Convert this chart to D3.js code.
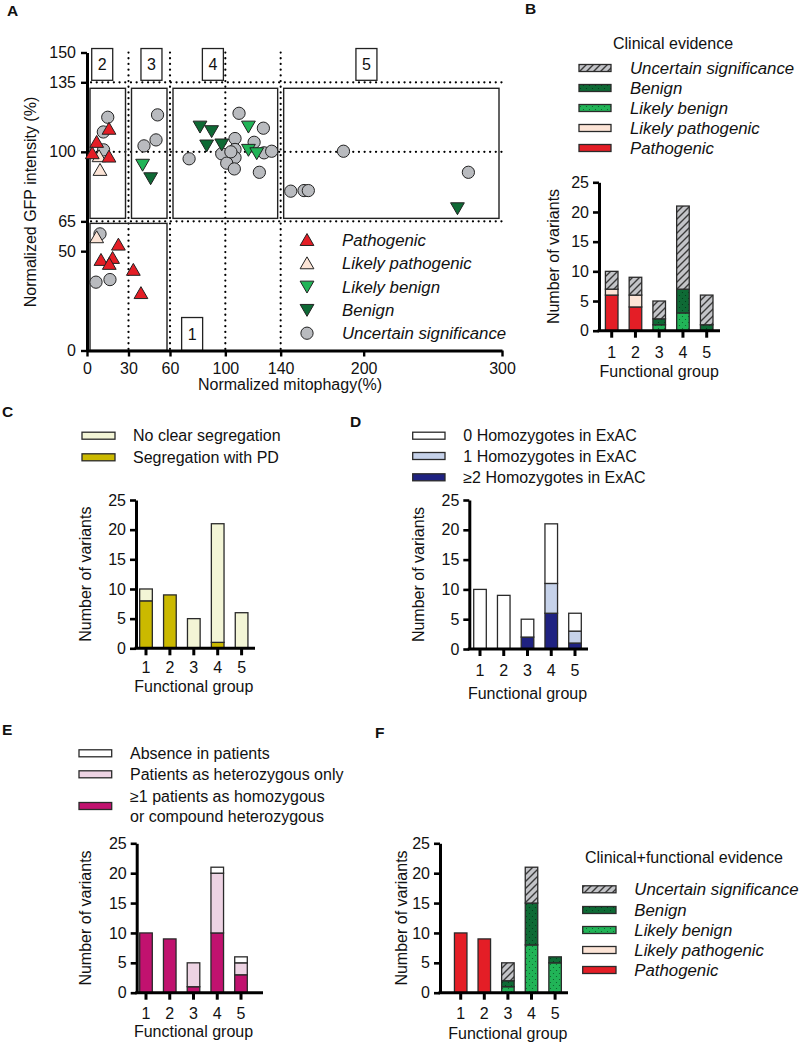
<!DOCTYPE html>
<html><head><meta charset="utf-8">
<script src="https://cdn.jsdelivr.net/npm/d3@7"></script>
<style>
body{margin:0;background:#fff}
svg{display:block}
text{font-family:"Liberation Sans",Arial,Helvetica,sans-serif;fill:#111}
</style>
</head><body>
<svg id="c" width="800" height="1044"></svg>
<script>
// ---------------- DATA ----------------
// Panel A scatter: [normalized mitophagy %, normalized GFP intensity %]
const pathogenicPts = [[15.9,111.6],[7,105],[3.8,99.3],[15.9,97.6],[22.7,53.3],[10.1,45.6],[18.5,46.6],[16.1,43.6],[33.5,40.6],[39,28.9]];
const likelyPathogenicPts = [[8.7,97.8],[9.4,90.9],[7,57]];
const likelyBenignPts = [[40.2,93.5],[116.7,112.7],[116.7,101],[122.7,99.3]];
const benignPts = [[46,86.7],[81.7,112.7],[90.1,110.4],[86.5,103.2],[97.4,103.7],[267.8,71.6]];
const uncertainPts = [[15,117.4],[11.8,110],[12,101],
  [51,118.6],[49.9,106],[41.2,103],
  [109.9,119.4],[127.5,111.9],[107,106.7],[120.8,104.8],[107,101.2],[97.4,99],[107,97.1],[128,99.5],[133.5,100.3],[101,94.3],[106.5,91.4],[124.6,89.7],[73.8,96.5],[104,100],
  [185.4,100.3],[275.7,89.7],[147.3,80.2],[156.9,80.5],[160,80.5],
  [9.4,58.7],[6.5,34.4],[16.6,35.7]];
const scatterXTicks = [0,30,60,100,140,200,300];
const scatterYTicks = [0,50,65,100,135,150];
const dividerX = [30,60,100,140];
const dividerY = [65,100,135];
// functional group regions: [label,x0,x1,y0,y1]
const groupRegions = [["1",0,60,0,65],["2",0,30,65,135],["3",30,60,65,135],["4",60,140,65,135],["5",140,300,65,135]];
const groupLabelX = [76,11,46.6,91,202];

// Bar panels
const groups = ["1","2","3","4","5"];
const barYTicks = [0,5,10,15,20,25];
// B clinical evidence
const bPathogenic = [6,4,0,0,0];
const bLikelyPathogenic = [1,2,0,0,0];
const bLikelyBenign = [0,0,1,3,0];
const bBenign = [0,0,1,4,1];
const bUncertain = [3,3,3,14,5];
// C segregation
const cSegregation = [8,9,0,1,0];
const cNoClear = [2,0,5,20,6];
// D ExAC homozygotes
const dHomo2 = [0,0,2,6,1];
const dHomo1 = [0,0,0,5,2];
const dHomo0 = [10,9,3,10,3];
// E patients
const eHomozygous = [10,9,1,10,3];
const eHeterozygous = [0,0,4,10,2];
const eAbsence = [0,0,0,1,1];
// F clinical + functional
const fPathogenic = [10,9,0,0,0];
const fLikelyPathogenic = [0,0,0,0,0];
const fLikelyBenign = [0,0,1,8,5];
const fBenign = [0,0,1,7,1];
const fUncertain = [0,0,3,6,0];

// ---------------- STYLE ----------------
const C = {
  red:"#e41e26", lp:"#fce4d6", lb:"#21b457", ben:"#0e6a35", unc:"#c3c4c8",
  seg:"#cbb900", noclear:"#f3f5d6",
  h0:"#ffffff", h1:"#c6d2ea", h2:"#1f2281",
  abs:"#ffffff", het:"#edd3e3", hom:"#c1126f", circle:"#b9bbbf"
};
const FONT = 16;
const IFONT = 16.8;

const svg = d3.select("#c");
const defs = svg.append("defs");
// hatch pattern
const hp = defs.append("pattern").attr("id","hatch").attr("patternUnits","userSpaceOnUse")
  .attr("width",7).attr("height",7);
hp.append("rect").attr("width",7).attr("height",7).attr("fill",C.unc);
hp.append("path").attr("d","M-1,1 l2,-2 M0,7 l7,-7 M6,8 l2,-2").attr("stroke","#3a3a3a").attr("stroke-width",1.4);
function dotPattern(id, bg, dot){
  const p = defs.append("pattern").attr("id",id).attr("patternUnits","userSpaceOnUse").attr("width",6).attr("height",6);
  p.append("rect").attr("width",6).attr("height",6).attr("fill",bg);
  p.append("circle").attr("cx",1.5).attr("cy",1.5).attr("r",0.6).attr("fill",dot);
  p.append("circle").attr("cx",4.5).attr("cy",4.5).attr("r",0.6).attr("fill",dot);
}
dotPattern("dotsLB", C.lb, "#0b5a2a");
dotPattern("dotsB", C.ben, "#03361a");

function panelLabel(t,x,y){
  svg.append("text").attr("x",x).attr("y",y).attr("font-size",15.5).attr("font-weight","bold").text(t);
}

// ---------------- PANEL A ----------------
(function(){
  const x = d3.scaleLinear().domain([0,300]).range([87,502]);
  const y = d3.scaleLinear().domain([0,150]).range([350.5,52.5]);
  const g = svg.append("g");

  const dot = sel => sel.attr("stroke","#000").attr("stroke-width",2.2)
    .attr("stroke-dasharray","0.1,5.6").attr("stroke-linecap","round").attr("fill","none");
  g.selectAll(".vx").data(dividerX).join("line")
    .attr("x1",d=>x(d)).attr("x2",d=>x(d)).attr("y1",y(150)).attr("y2",y(0)).call(dot);
  g.selectAll(".hy").data(dividerY).join("line")
    .attr("x1",x(0)+4).attr("x2",x(300)).attr("y1",d=>y(d)).attr("y2",d=>y(d)).call(dot);

  g.selectAll(".reg").data(groupRegions).join("rect")
    .attr("x",d=>x(d[1])+3).attr("y",d=>y(d[4])+(d[4]===135?6:2))
    .attr("width",d=>x(d[2])-x(d[1])-6)
    .attr("height",d=>y(d[3])-y(d[4])-(d[4]===135?6:2)-(d[3]===0?0:3))
    .attr("fill","none").attr("stroke","#222").attr("stroke-width",1.4);

  groupRegions.forEach((r,i)=>{
    const cx = x(groupLabelX[i]);
    const top = r[0]==="1" ? y(16.6) : y(152);
    const bot = r[0]==="1" ? y(0) : y(136);
    g.append("rect").attr("x",cx-10.5).attr("y",top).attr("width",21).attr("height",bot-top)
      .attr("fill","#fff").attr("stroke","#222").attr("stroke-width",1.3);
    g.append("text").attr("x",cx).attr("y",(top+bot)/2).attr("dy","0.36em")
      .attr("text-anchor","middle").attr("font-size",FONT).text(r[0]);
  });

  const ax = g.append("g").attr("transform",`translate(0,${y(0)})`)
    .call(d3.axisBottom(x).tickValues(scatterXTicks).tickSize(6).tickSizeOuter(0).tickPadding(6));
  const ay = g.append("g").attr("transform",`translate(${x(0)},0)`)
    .call(d3.axisLeft(y).tickValues(scatterYTicks).tickSize(6).tickSizeOuter(0).tickPadding(5));
  [ax,ay].forEach(a=>{
    a.select(".domain").attr("stroke","#000").attr("stroke-width",3);
    a.selectAll(".tick line").attr("stroke","#000").attr("stroke-width",2.4);
    a.selectAll(".tick text").attr("font-size",FONT).attr("font-family",null).attr("fill","#111");
  });

  const circ = d3.symbol().type(d3.symbolCircle).size(118);
  const tri = d3.symbol().type(d3.symbolTriangle).size(82);
  g.selectAll(".unc").data(uncertainPts).join("path").attr("d",circ)
    .attr("transform",d=>`translate(${x(d[0])},${y(d[1])})`)
    .attr("fill",C.circle).attr("stroke","#222").attr("stroke-width",1);
  const triSets = [[benignPts,C.ben,180],[likelyBenignPts,C.lb,180],[likelyPathogenicPts,C.lp,0],[pathogenicPts,C.red,0]];
  triSets.forEach(([pts,col,rot])=>{
    g.append("g").selectAll("path").data(pts).join("path").attr("d",tri)
      .attr("transform",d=>`translate(${x(d[0])},${y(d[1])+(rot?-1.5:1.5)}) rotate(${rot})`)
      .attr("fill",col).attr("stroke","#222").attr("stroke-width",1);
  });

  const leg = [["Pathogenic",C.red,"tri",0],["Likely pathogenic",C.lp,"tri",0],["Likely benign",C.lb,"tri",180],["Benign",C.ben,"tri",180],["Uncertain significance",C.circle,"circ",0]];
  leg.forEach((l,i)=>{
    const yy = 240 + i*23.3;
    g.append("path").attr("d", l[2]==="tri"?tri:circ)
      .attr("transform",`translate(307,${yy+(l[2]==="tri"?(l[3]?-1.5:1.5):0)}) rotate(${l[3]})`)
      .attr("fill",l[1]).attr("stroke","#222").attr("stroke-width",1);
    g.append("text").attr("x",342).attr("y",yy).attr("dy","0.36em").attr("font-size",IFONT)
      .attr("font-style","italic").text(l[0]);
  });

  g.append("text").attr("transform",`translate(36,202) rotate(-90)`).attr("text-anchor","middle")
    .attr("font-size",FONT).text("Normalized GFP intensity (%)");
  g.append("text").attr("x",290).attr("y",390).attr("text-anchor","middle")
    .attr("font-size",FONT).text("Normalized mitophagy(%)");
})();
panelLabel("A",7,16);

// ---------------- BAR PANELS ----------------
function barChart(o){
  const g = svg.append("g");
  const y = d3.scaleLinear().domain([0,25]).range([o.y0,o.y25]);
  const x = d3.scaleBand().domain(groups)
    .range([o.c1-o.step/2, o.c1-o.step/2+5*o.step]).paddingInner(0.47).paddingOuter(0.235);
  const rows = groups.map((gname,i)=>{
    const r = {group:gname};
    o.series.forEach(s=>{ r[s.key]=s.values[i]; });
    return r;
  });
  const stack = d3.stack().keys(o.series.map(s=>s.key))(rows);
  stack.forEach((layer,li)=>{
    const s = o.series[li];
    g.append("g").selectAll("rect").data(layer.filter(d=>d[1]>d[0])).join("rect")
      .attr("x",d=>x(d.data.group)).attr("width",x.bandwidth())
      .attr("y",d=>y(d[1])).attr("height",d=>y(d[0])-y(d[1]))
      .attr("fill",s.fill).attr("stroke","#2a2a2a").attr("stroke-width",1.3);
  });
  const ay = g.append("g").attr("transform",`translate(${o.ax},0)`)
    .call(d3.axisLeft(y).tickValues(barYTicks).tickSize(6).tickSizeOuter(0).tickPadding(4));
  ay.select(".domain").attr("stroke","#000").attr("stroke-width",3);
  ay.selectAll(".tick line").attr("stroke","#000").attr("stroke-width",2.6);
  ay.selectAll(".tick text").attr("font-size",FONT).attr("font-family",null).attr("fill","#111");
  g.append("line").attr("x1",o.ax-1.5).attr("x2",o.axEnd).attr("y1",y(0)).attr("y2",y(0))
    .attr("stroke","#000").attr("stroke-width",3);
  g.selectAll(".xt").data(groups).join("line")
    .attr("x1",d=>x(d)+x.bandwidth()/2).attr("x2",d=>x(d)+x.bandwidth()/2)
    .attr("y1",y(0)).attr("y2",y(0)+7).attr("stroke","#000").attr("stroke-width",3);
  g.selectAll(".xl").data(groups).join("text")
    .attr("x",d=>x(d)+x.bandwidth()/2).attr("y",y(0)+o.tickLab).attr("dy","0.36em")
    .attr("text-anchor","middle").attr("font-size",FONT).text(d=>d);
  g.append("text").attr("x",x("3")+x.bandwidth()/2).attr("y",y(0)+o.fgLab).attr("dy","0.36em")
    .attr("text-anchor","middle").attr("font-size",FONT).text("Functional group");
  g.append("text").attr("transform",`translate(${o.ylabX},${(o.y0+o.y25)/2}) rotate(-90)`)
    .attr("dy","0.36em").attr("text-anchor","middle").attr("font-size",FONT).text("Number of variants");
  if(o.title){
    g.append("text").attr("x",o.title[1]).attr("y",o.title[2]).attr("dy","0.36em")
      .attr("font-size",FONT).text(o.title[0]);
  }
  o.legend.forEach(l=>{
    g.append("rect").attr("x",o.sw[0]).attr("y",l.y-3.5).attr("width",o.sw[1]-o.sw[0]).attr("height",7)
      .attr("fill",l.fill).attr("stroke","#2a2a2a").attr("stroke-width",1.3);
    const lines = l.text.split("\n");
    lines.forEach((t,k)=>{
      g.append("text").attr("x",o.tx).attr("y",l.y + (k-(lines.length-1)/2)*20).attr("dy","0.36em")
        .attr("font-size",o.italic?IFONT:FONT).attr("font-style",o.italic?"italic":null).text(t);
    });
  });
}

// B
barChart({ax:599, axEnd:720, y0:330.7, y25:182.3, c1:611.7, step:23.75, tickLab:22, fgLab:41, ylabX:553,
  series:[{key:"P",values:bPathogenic,fill:C.red},{key:"LP",values:bLikelyPathogenic,fill:C.lp},
          {key:"LB",values:bLikelyBenign,fill:"url(#dotsLB)"},{key:"B",values:bBenign,fill:"url(#dotsB)"},
          {key:"U",values:bUncertain,fill:"url(#hatch)"}],
  title:["Clinical evidence",613,43], sw:[579,611], tx:630, italic:true,
  legend:[{text:"Uncertain significance",fill:"url(#hatch)",y:68},{text:"Benign",fill:"url(#dotsB)",y:88},
          {text:"Likely benign",fill:"url(#dotsLB)",y:108},{text:"Likely pathogenic",fill:C.lp,y:128},
          {text:"Pathogenic",fill:C.red,y:148}]});
panelLabel("B",525,14);

// C
barChart({ax:136, axEnd:255, y0:648.3, y25:500, c1:146, step:23.9, tickLab:18.5, fgLab:38, ylabX:85,
  series:[{key:"S",values:cSegregation,fill:C.seg},{key:"N",values:cNoClear,fill:C.noclear}],
  sw:[82,115], tx:133, italic:false,
  legend:[{text:"No clear segregation",fill:C.noclear,y:435.7},{text:"Segregation with PD",fill:C.seg,y:457.3}]});
panelLabel("C",2,417);

// D
barChart({ax:469.3, axEnd:588, y0:649, y25:500, c1:480, step:23.75, tickLab:21, fgLab:44, ylabX:418,
  series:[{key:"H2",values:dHomo2,fill:C.h2},{key:"H1",values:dHomo1,fill:C.h1},{key:"H0",values:dHomo0,fill:C.h0}],
  sw:[412.7,445], tx:463.3, italic:false,
  legend:[{text:"0 Homozygotes in ExAC",fill:C.h0,y:435.7},{text:"1 Homozygotes in ExAC",fill:C.h1,y:456},
          {text:"\u22652 Homozygotes in ExAC",fill:C.h2,y:477.3}]});
panelLabel("D",350,427);

// E
barChart({ax:136.7, axEnd:263, y0:992.7, y25:843.3, c1:146, step:23.75, tickLab:20.5, fgLab:38.5, ylabX:85,
  series:[{key:"Ho",values:eHomozygous,fill:C.hom},{key:"He",values:eHeterozygous,fill:C.het},{key:"A",values:eAbsence,fill:C.abs}],
  sw:[79,111.7], tx:130, italic:false,
  legend:[{text:"Absence in patients",fill:C.abs,y:753.3},{text:"Patients as heterozygous only",fill:C.het,y:774.3},
          {text:"\u22651 patients as homozygous\nor compound heterozygous",fill:C.hom,y:806}]});
panelLabel("E",2,735);

// F
barChart({ax:440, axEnd:568, y0:992.7, y25:843.3, c1:460.7, step:23.6, tickLab:21, fgLab:40.5, ylabX:401.7,
  series:[{key:"P",values:fPathogenic,fill:C.red},{key:"LP",values:fLikelyPathogenic,fill:C.lp},
          {key:"LB",values:fLikelyBenign,fill:"url(#dotsLB)"},{key:"B",values:fBenign,fill:"url(#dotsB)"},
          {key:"U",values:fUncertain,fill:"url(#hatch)"}],
  title:["Clinical+functional evidence",585,857.7], sw:[582.7,616], tx:634.3, italic:true,
  legend:[{text:"Uncertain significance",fill:"url(#hatch)",y:889.3},{text:"Benign",fill:"url(#dotsB)",y:910},
          {text:"Likely benign",fill:"url(#dotsLB)",y:930},{text:"Likely pathogenic",fill:C.lp,y:950},
          {text:"Pathogenic",fill:C.red,y:970}]});
panelLabel("F",375,738);
</script>
</body></html>
